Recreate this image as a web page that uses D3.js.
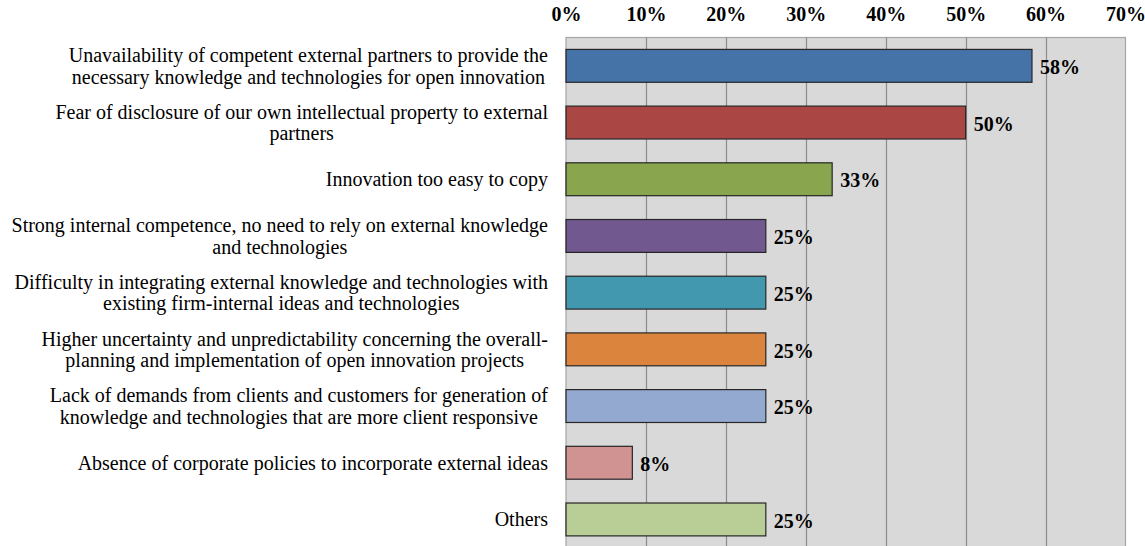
<!DOCTYPE html>
<html>
<head>
<meta charset="utf-8">
<script src="https://cdn.jsdelivr.net/npm/d3@7"></script>
<style>
  body { margin: 0; background: #fff; }
  svg { display: block; }
</style>
</head>
<body>
<svg id="chart" width="1145" height="546"></svg>
<script>
// barriers to open innovation, share of respondents (%)
let categories = [
    ["Unavailability of competent external partners to provide the", "necessary knowledge and technologies for open innovation"],
    ["Fear of disclosure of our own intellectual property to external", "partners"],
    ["Innovation too easy to copy"],
    ["Strong internal competence, no need to rely on external knowledge", "and technologies"],
    ["Difficulty in integrating external knowledge and technologies with", "existing firm-internal ideas and technologies"],
    ["Higher uncertainty and unpredictability concerning the overall-", "planning and implementation of open innovation projects"],
    ["Lack of demands from clients and customers for generation of", "knowledge and technologies that are more client responsive"],
    ["Absence of corporate policies to incorporate external ideas"],
    ["Others"]
];
let values = [58.3, 50, 33.3, 25, 25, 25, 25, 8.3, 25];
let valueLabels = ["58%", "50%", "33%", "25%", "25%", "25%", "25%", "8%", "25%"];
let colors = ["#4572A7", "#AA4643", "#89A54E", "#71588F", "#4198AF", "#DB843D", "#93A9CF", "#D19392", "#B9CD96"];
let ticks = [0, 10, 20, 30, 40, 50, 60, 70];

let svg = d3.select("#chart");
let plotLeft = 566, plotRight = 1125.5, plotTop = 37.5;
let step = 56.7;
let plotBottom = plotTop + step * categories.length;
let serif = "'Liberation Serif', 'Times New Roman', serif";

let x = d3.scaleLinear().domain([0, 70]).range([plotLeft, plotRight]);
let y = d3.scaleBand()
    .domain(d3.range(categories.length))
    .range([plotTop, plotBottom])
    .paddingInner(0.42)
    .paddingOuter(0.21);

// plot area
svg.append("rect")
    .attr("x", plotLeft).attr("y", plotTop)
    .attr("width", plotRight - plotLeft).attr("height", plotBottom - plotTop)
    .style("fill", "#d9d9d9")
    .style("stroke", "#a6a6a6")
    .style("stroke-width", 1.2);

svg.append("g")
    .selectAll("line")
    .data(ticks.slice(1, -1))
    .enter().append("line")
    .attr("x1", d => Math.round(x(d)) + 0.5).attr("x2", d => Math.round(x(d)) + 0.5)
    .attr("y1", plotTop).attr("y2", plotBottom)
    .style("stroke", "#8c8c8c")
    .style("stroke-width", 1.2);

// top axis labels
let xAxis = d3.axisTop(x).tickValues(ticks).tickFormat(d => d + "%").tickSize(0).tickPadding(0);
let ax = svg.append("g")
    .attr("transform", "translate(0,21)")
    .call(xAxis);
ax.select(".domain").remove();
ax.selectAll("text")
    .attr("dy", 0)
    .style("font-family", serif)
    .style("font-weight", "bold")
    .style("font-size", "20px")
    .style("fill", "#000");

// bars
svg.append("g")
    .selectAll("rect")
    .data(values)
    .enter().append("rect")
    .attr("x", plotLeft)
    .attr("y", (d, i) => y(i))
    .attr("width", d => x(d) - plotLeft)
    .attr("height", y.bandwidth())
    .style("fill", (d, i) => colors[i])
    .style("stroke", "#262626")
    .style("stroke-width", 1.2);

// value labels
svg.append("g")
    .selectAll("text")
    .data(values)
    .enter().append("text")
    .attr("x", d => x(d) + 8)
    .attr("y", (d, i) => y(i) + y.bandwidth() / 2 + 1)
    .attr("dy", "0.36em")
    .style("font-family", serif)
    .style("font-weight", "bold")
    .style("font-size", "20px")
    .text((d, i) => valueLabels[i]);

// category labels, centred block with right edge at labelRight
let labelRight = 548, lineH = 21.5;
let labelG = svg.append("g")
    .style("font-family", serif)
    .style("font-size", "20px")
    .style("fill", "#000");

categories.forEach((lines, i) => {
    let cy = y(i) + y.bandwidth() / 2;
    let t = labelG.append("text").attr("text-anchor", "middle");
    lines.forEach((ln, j) => {
        t.append("tspan")
            .attr("y", cy + (j - (lines.length - 1) / 2) * lineH)
            .attr("dy", "0.35em")
            .text(ln);
    });
    let w = d3.max(t.selectAll("tspan").nodes(), n => n.getComputedTextLength());
    t.selectAll("tspan").attr("x", labelRight - w / 2);
});
</script>
</body>
</html>
